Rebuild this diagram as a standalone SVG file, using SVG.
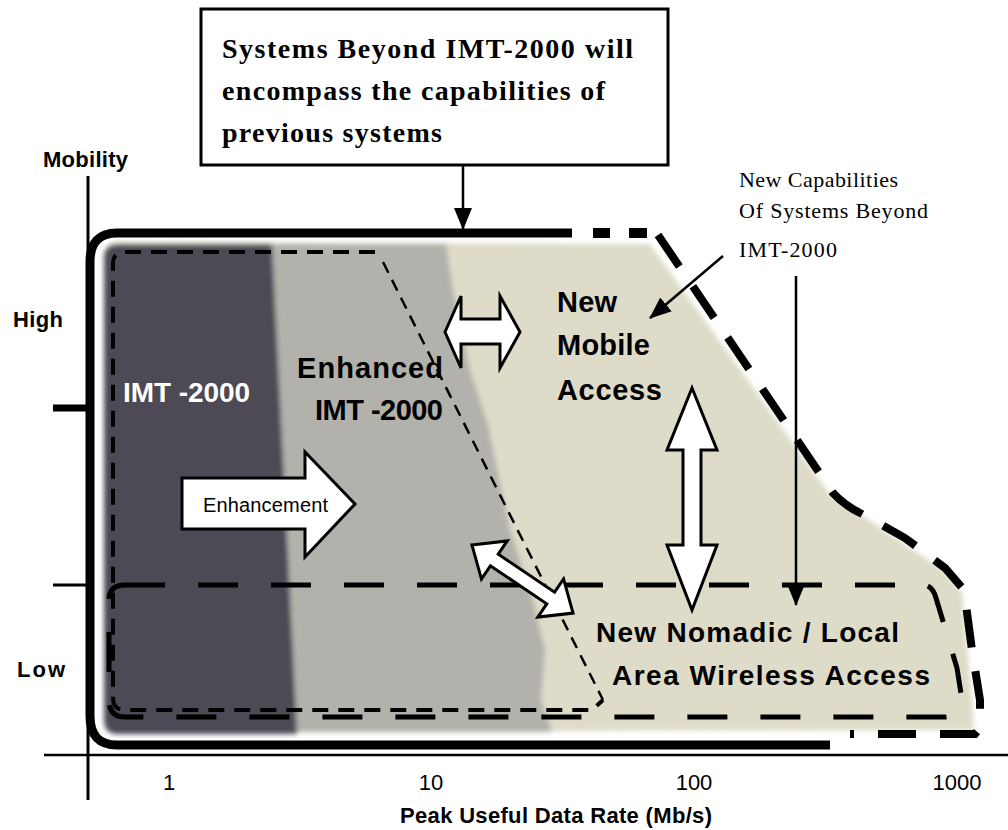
<svg xmlns="http://www.w3.org/2000/svg" width="1008" height="830" viewBox="0 0 1008 830">
<defs>
<style>
.sans{font-family:"Liberation Sans",Arial,sans-serif}
.serif{font-family:"Liberation Serif","Times New Roman",serif}
.b{font-weight:bold}
.blk{fill:#fff;stroke:#000;stroke-width:3;stroke-linejoin:miter}
.thin{fill:none;stroke:#000;stroke-width:2.5}
</style>
<marker id="ah" markerUnits="userSpaceOnUse" viewBox="0 0 22 18" markerWidth="22" markerHeight="18" refX="21" refY="9" orient="auto">
<path d="M0,0 L22,9 L0,18 Z" fill="#000"/>
</marker>
<filter id="soft" x="-5%" y="-5%" width="110%" height="110%">
<feGaussianBlur stdDeviation="2.5"/>
</filter>
</defs>
<rect width="1008" height="830" fill="#fff"/>

<g id="regions" filter="url(#soft)">
<path id="new-region" d="M104,258 Q104,242 118,242 L650,244 L831,496 L860,514 L943,570 L962,592 L972,700 L974,730 L118,732 Q104,732 104,718 Z" fill="#dedbc8"/>
<path id="enhanced-region" d="M268,244 L446,244 L453,290 L470,370 L488,425 L510,530 L533,600 L545,650 L541,700 L552,732 L290,732 Z" fill="#b3b1ab"/>
<path id="imt-region" d="M104,258 Q104,244 118,244 L272,244 L297,734 L118,734 Q104,734 104,720 Z" fill="#4d4a55"/>
</g>

<g id="axes">
<line x1="88" y1="176" x2="88" y2="800" stroke="#000" stroke-width="3"/>
<line x1="44" y1="755" x2="1008" y2="755" stroke="#000" stroke-width="2.5"/>
<line x1="53" y1="408" x2="88" y2="408" stroke="#000" stroke-width="7"/>
<line x1="53" y1="585" x2="88" y2="585" stroke="#000" stroke-width="3"/>
<text class="sans b" x="43" y="167" font-size="22" textLength="85">Mobility</text>
<text class="sans b" x="13" y="327" font-size="22" textLength="50">High</text>
<text class="sans b" x="17" y="677" font-size="22" textLength="48">Low</text>
<g class="sans" font-size="22" text-anchor="middle">
<text x="169" y="790">1</text>
<text x="431" y="790">10</text>
<text x="694" y="790">100</text>
<text x="957" y="790">1000</text>
</g>
<text class="sans b" x="556" y="823" font-size="22" text-anchor="middle" textLength="312">Peak Useful Data Rate (Mb/s)</text>
</g>

<g id="boundaries">
<path d="M572,233 L117,233 Q90,233 90,262 L90,716 Q90,745 117,745 L830,745" fill="none" stroke="#000" stroke-width="9"/>
<line x1="593" y1="233" x2="610" y2="233" stroke="#000" stroke-width="10"/>
<line x1="629" y1="233" x2="647" y2="233" stroke="#000" stroke-width="10"/>
<path d="M658,235 L833,493 Q845,506 862,514 L905,538 L945,568 L964,590 L972,650 L980,700 L980,728 L975,734 L850,734" fill="none" stroke="#000" stroke-width="8" stroke-dasharray="38,24"/>
<path d="M375,252 L125,252 Q113,252 113,264 L113,698 Q113,710 125,710 L592,710 L603,700" fill="none" stroke="#000" stroke-width="4" stroke-dasharray="16,10"/>
<line x1="383" y1="262" x2="603" y2="700" stroke="#000" stroke-width="2.5" stroke-dasharray="12,8"/>
<path d="M125,585 L925,585 Q933,587 936,598 L957,668 L962,700 Q962,716 945,717 L125,717 Q109,717 109,700 L109,600 Q109,585 125,585" fill="none" stroke="#000" stroke-width="5" stroke-dasharray="40,33"/>
</g>

<g id="callout-box">
<rect x="201" y="9" width="467" height="156" fill="#fff" stroke="#000" stroke-width="3"/>
<g class="serif b" font-size="28">
<text x="222" y="58" textLength="411">Systems Beyond IMT-2000 will</text>
<text x="222" y="100" textLength="383">encompass the capabilities of</text>
<text x="222" y="142" textLength="220">previous systems</text>
</g>
</g>

<g id="new-capabilities-label" class="serif" font-size="22">
<text x="739" y="187" textLength="159">New Capabilities</text>
<text x="739" y="218" textLength="189">Of Systems Beyond</text>
<text x="739" y="257" textLength="98">IMT-2000</text>
</g>

<g id="connectors">
<line class="thin" x1="463" y1="165" x2="463" y2="229" marker-end="url(#ah)"/>
<line class="thin" x1="723" y1="256" x2="650" y2="318" marker-end="url(#ah)"/>
<line class="thin" x1="796" y1="276" x2="796" y2="605" marker-end="url(#ah)"/>
</g>

<g id="imt2000">
<text class="sans b" x="123" y="402" font-size="28" fill="#fff" textLength="127">IMT -2000</text>
</g>
<g id="enhanced-imt2000" class="sans b" font-size="29">
<text x="297" y="378" textLength="146">Enhanced</text>
<text x="315" y="420" textLength="128">IMT -2000</text>
</g>
<g id="new-mobile-access" class="sans b" font-size="29">
<text x="557" y="312" textLength="60">New</text>
<text x="557" y="355" textLength="93">Mobile</text>
<text x="557" y="400" textLength="105">Access</text>
</g>
<g id="new-nomadic" class="sans b" font-size="28">
<text x="596" y="642" textLength="303">New Nomadic / Local</text>
<text x="612" y="685" textLength="318">Area Wireless Access</text>
</g>

<g id="enhancement-arrow">
<polygon class="blk" points="182,478 305,478 305,452 355,504 305,557 305,529 182,529"/>
<text class="sans" x="203" y="512" font-size="20" textLength="125">Enhancement</text>
</g>
<g id="h-double-arrow">
<polygon class="blk" points="445,332 461,296 461,319 500,319 500,296 520,332 500,368 500,344 461,344 461,368"/>
</g>
<g id="v-double-arrow">
<polygon class="blk" points="692,388 717,450 701,450 701,545 717,545 692,610 667,545 683,545 683,450 667,450"/>
</g>
<g id="diag-double-arrow" transform="translate(522.5,579) rotate(34)">
<polygon class="blk" points="-61,0 -34,-23 -34,-7 34,-7 34,-23 61,0 34,23 34,7 -34,7 -34,23"/>
</g>
</svg>
